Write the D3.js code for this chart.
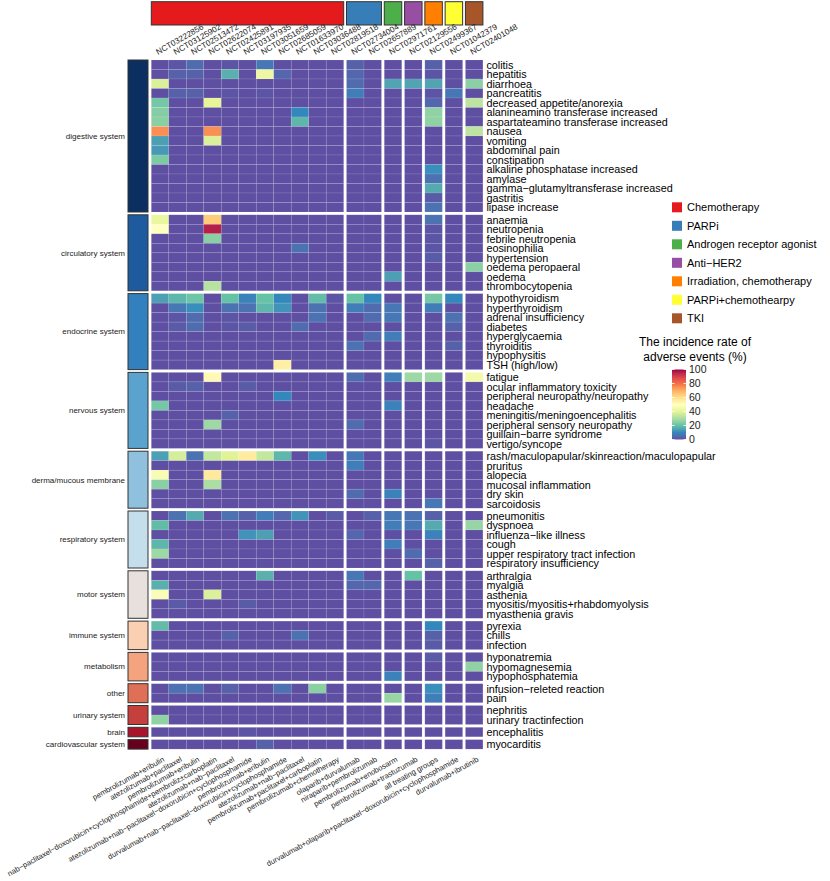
<!DOCTYPE html>
<html>
<head>
<meta charset="utf-8">
<script src="https://cdn.jsdelivr.net/npm/d3@7"></script>
<style>
  body { margin: 0; background: #fff; }
  svg { font-family: "Liberation Sans", Arial, sans-serif; }
</style>
</head>
<body>
<div id="chart"></div>
<script>
// trial ids (top) and regimens (bottom)
const trials = ["NCT03222856","NCT03125902","NCT02513472","NCT02622074","NCT02425891","NCT03197935",
  "NCT03051659","NCT02685059","NCT01633970","NCT03036488","NCT02819518","NCT02734004","NCT02657889",
  "NCT02971761","NCT02129556","NCT02499367","NCT01042379","NCT02401048"];
const regimens = ["pembrolizumab+eribulin","atezolizumab+paclitaxel","pembrolizumab+eribulin",
  "nab\u2212paclitaxel\u2212doxorubicin+cyclophosphamide+pembroliz\u00b1carboplatin",
  "atezolizumab+nab\u2212paclitaxel","atezolizumab+nab\u2212paclitaxel\u2212doxorubicin+cyclophosphamide",
  "pembrolizumab+eribulin","durvalumab+nab\u2212paclitaxel\u2212doxorubicin+cyclophosphamide",
  "atezolizumab+nab\u2212paclitaxel","pembrolizumab+paclitaxel+carboplatin","pembrolizumab+chemotherapy",
  "olaparib+durvalumab","niraparib+pembrolizumab","pembrolizumab+enobosarm","pembrolizumab+trastuzumab",
  "all treating groups","durvalumab+olaparib+paclitaxel\u2212doxorubicin+cyclophosphamide","durvalumab+ibrutinib"];
const therapyTypes = ["Chemotherapy","PARPi","Androgen receptor agonist","Anti\u2212HER2",
  "Irradiation, chemotherapy","PARPi+chemothearpy","TKI"];
const trialsPerType = [11, 2, 1, 1, 1, 1, 1];

const systems = ["digestive system","circulatory system","endocrine system","nervous system",
  "derma/mucous membrane","respiratory system","motor system","immune system","metabolism","other",
  "urinary system","brain","cardiovascular system"];
const eventsPerSystem = [16, 8, 8, 8, 6, 6, 5, 3, 3, 2, 2, 1, 1];

const events = ["colitis","hepatitis","diarrhoea","pancreatitis","decreased appetite/anorexia",
  "alanineamino transferase increased","aspartateamino transferase increased","nausea","vomiting",
  "abdominal pain","constipation","alkaline phosphatase increased","amylase",
  "gamma\u2212glutamyltransferase increased","gastritis","lipase increase",
  "anaemia","neutropenia","febrile neutropenia","eosinophilia","hypertension","oedema peropaeral","oedema","thrombocytopenia",
  "hypothyroidism","hyperthyroidism","adrenal insufficiency","diabetes","hyperglycaemia","thyroiditis","hypophysitis","TSH (high/low)",
  "fatigue","ocular inflammatory toxicity","peripheral neuropathy/neuropathy","headache",
  "meningitis/meningoencephalitis","peripheral sensory neuropathy","guillain\u2212barre syndrome","vertigo/syncope",
  "rash/maculopapular/skinreaction/maculopapular","pruritus","alopecia","mucosal inflammation","dry skin","sarcoidosis",
  "pneumonitis","dyspnoea","influenza\u2212like illness","cough","upper respiratory tract infection","respiratory insufficiency",
  "arthralgia","myalgia","asthenia","myositis/myositis+rhabdomyolysis","myasthenia gravis",
  "pyrexia","chills","infection",
  "hyponatremia","hypomagnesemia","hypophosphatemia",
  "infusion\u2212releted reaction","pain",
  "nephritis","urinary tractinfection",
  "encephalitis",
  "myocarditis"];

// incidence rate (%) per event, one value per trial (same order as trials)
const rates = [
  [0,1,5,0,1,0,7,0,0,0,0, 3,0, 0,0,3,0,0],
  [0,3,3,0,17,0,43,4,0,0,0, 4,0, 0,0,1,0,0],
  [38,0,0,0,0,0,0,0,0,0,0, 5,0, 15,15,15,0,25],
  [0,3,3,0,1,0,1,0,0,0,0, 8,0, 0,0,1,7,0],
  [22,0,0,40,0,0,0,0,0,0,0, 0,0, 0,0,4,0,33],
  [24,0,0,0,0,0,0,0,10,0,0, 0,0, 0,0,26,0,0],
  [25,0,0,0,0,0,0,0,18,0,0, 0,0, 0,0,26,0,0],
  [75,0,0,75,0,0,0,0,0,0,0, 0,0, 0,0,0,0,33],
  [14,0,0,38,0,0,0,0,0,0,0, 0,0, 0,0,0,0,0],
  [13,0,0,0,0,0,0,0,0,0,0, 0,0, 0,0,0,0,0],
  [23,0,0,0,0,0,0,0,0,0,0, 0,0, 0,0,0,0,0],
  [0,0,0,0,0,0,0,0,0,0,0, 0,0, 0,0,11,0,0],
  [0,0,0,0,0,0,0,0,0,0,0, 0,0, 0,0,6,0,0],
  [0,0,0,0,0,0,0,0,0,0,0, 0,0, 0,0,16,0,0],
  [0,0,0,0,0,0,0,0,0,0,0, 0,0, 0,0,2,0,0],
  [0,0,0,0,0,0,0,0,0,0,0, 0,0, 0,0,6,0,0],
  // circulatory
  [42,0,0,64,0,0,0,0,0,0,0, 0,0, 0,0,6,0,0],
  [50,0,0,96,0,0,0,0,0,0,0, 0,0, 0,0,1,0,0],
  [0,0,0,25,0,0,0,0,0,0,0, 0,0, 0,0,1,0,0],
  [0,0,0,0,0,0,0,0,6,0,0, 0,0, 0,0,1,0,0],
  [0,0,0,0,0,0,0,0,0,0,0, 0,0, 0,0,2,0,0],
  [0,0,0,0,0,0,0,0,0,0,0, 0,0, 0,0,0,0,25],
  [0,0,0,0,0,0,0,0,0,0,0, 0,0, 14,0,0,0,0],
  [0,0,0,32,0,0,0,0,0,0,0, 0,0, 0,0,0,0,0],
  // endocrine
  [14,18,21,0,20,9,20,10,0,19,1, 20,10, 0,0,22,10,0],
  [0,7,11,0,6,6,18,12,0,6,0, 8,5, 7,0,8,0,0],
  [0,1,5,0,1,0,0,0,0,6,0, 0,5, 7,0,0,6,0],
  [0,2,5,0,1,2,0,0,5,0,0, 0,0, 0,0,0,3,0],
  [0,0,0,0,0,0,0,0,0,0,0, 0,5, 8,0,0,0,0],
  [0,0,0,0,0,0,0,0,0,0,0, 6,0, 0,0,0,3,0],
  [0,0,0,0,0,0,0,0,0,0,0, 0,0, 0,0,0,0,0],
  [0,0,0,0,0,0,0,55,0,0,0, 0,0, 0,0,0,0,0],
  // nervous
  [0,0,0,52,0,0,0,0,0,0,0, 5,0, 8,28,28,0,45],
  [0,2,3,0,0,2,0,0,0,0,0, 0,0, 0,0,0,0,0],
  [0,0,0,0,0,0,0,10,0,0,0, 0,0, 0,0,0,0,0],
  [22,0,0,0,0,0,0,0,0,0,0, 0,0, 9,0,0,0,0],
  [0,0,0,0,3,0,0,0,0,0,0, 0,0, 0,0,0,0,0],
  [0,0,0,28,0,0,0,0,0,0,0, 5,0, 0,0,0,0,0],
  [0,0,0,0,0,0,0,0,0,0,0, 0,0, 0,0,0,0,0],
  [0,0,0,0,0,0,0,0,0,0,0, 0,0, 0,0,1,0,0],
  // derma/mucous membrane
  [14,37,6,34,39,56,34,18,0,11,0, 7,0, 0,0,0,0,0],
  [0,0,0,0,0,0,0,0,0,0,0, 8,0, 0,0,0,0,0],
  [47,0,0,57,0,0,0,0,0,0,0, 0,0, 0,0,0,0,0],
  [25,0,0,30,0,0,0,0,0,0,0, 0,0, 0,0,0,0,0],
  [0,0,0,0,0,0,0,0,0,0,0, 5,0, 9,0,0,0,0],
  [0,0,0,0,0,0,0,0,0,0,0, 0,0, 0,0,7,0,0],
  // respiratory
  [0,6,16,0,6,3,8,4,12,0,2, 0,3, 7,6,3,0,0],
  [19,0,0,0,0,0,0,0,0,0,0, 0,0, 8,7,16,0,27],
  [0,0,0,0,0,12,14,0,0,0,0, 4,0, 0,0,9,0,0],
  [18,0,0,0,0,0,0,0,0,0,0, 0,0, 8,0,0,0,0],
  [28,0,0,0,0,0,0,0,0,0,0, 0,0, 0,5,0,0,0],
  [0,0,0,0,0,0,0,0,0,0,0, 0,0, 0,0,3,0,0],
  // motor
  [0,0,0,0,0,0,17,0,0,0,0, 7,0, 0,20,0,0,0],
  [17,0,0,0,0,0,0,0,0,0,0, 4,4, 0,0,0,0,0],
  [48,0,0,38,0,0,0,0,0,0,0, 0,0, 0,0,0,0,0],
  [0,2,0,0,0,2,0,0,0,0,0, 0,0, 0,0,0,0,0],
  [0,0,0,0,0,0,0,0,0,0,0, 0,0, 0,0,0,0,0],
  // immune
  [19,0,0,0,0,0,0,0,0,0,0, 0,0, 0,0,10,0,0],
  [0,0,0,0,3,0,0,0,6,0,0, 0,0, 0,0,3,0,0],
  [0,0,0,0,0,0,0,0,0,0,0, 0,0, 0,0,2,0,0],
  // metabolism
  [0,0,0,0,0,0,0,0,0,0,0, 0,0, 0,0,2,0,0],
  [0,0,0,0,0,0,0,0,0,0,0, 0,0, 0,0,0,0,26],
  [0,0,0,0,0,0,0,0,0,0,0, 0,0, 9,0,0,0,0],
  // other
  [0,6,6,0,3,0,0,6,0,25,0, 0,0, 0,0,11,0,0],
  [0,0,0,0,0,0,0,0,0,0,0, 0,0, 27,0,8,0,0],
  // urinary
  [0,0,0,0,0,0,0,0,0,0,0, 0,0, 0,0,0,0,0],
  [26,0,0,0,0,0,0,0,0,0,0, 0,0, 0,0,0,0,0],
  // brain
  [0,0,0,0,0,1,0,0,0,0,0, 0,0, 0,0,0,0,0],
  // cardiovascular
  [0,0,0,0,0,0,3,0,0,0,0, 0,0, 0,0,0,0,0]
];

const legendTicks = [0, 20, 40, 60, 80, 100];

const W = 830, H = 881;
const typeColors = ["#E41A1C","#377EB8","#4DAF4A","#984EA3","#FF7F00","#FFFF33","#A65628"];
const systemColors = ["#0B2F60","#1D5A9E","#3281BE","#5AA3CE","#8FC1DE","#C4DEEC","#E8E0DC",
  "#FBCFB2","#F3A47F","#E06F57","#C5403D","#A9142D","#67001F"];

const colW = 17.49, rowH = 9.5, gap = 2.8;
const x0 = 151.3, y0 = 60;

// group index of each column / row
const colType = trialsPerType.flatMap((n, g) => d3.range(n).map(() => g));
const rowSys = eventsPerSystem.flatMap((n, g) => d3.range(n).map(() => g));

const xBase = d3.scaleLinear().domain([0, trials.length]).range([x0, x0 + trials.length * colW]);
const yBase = d3.scaleLinear().domain([0, events.length]).range([y0, y0 + events.length * rowH]);
const xPos = i => xBase(i) + colType[i] * gap;
const yPos = i => yBase(i) + rowSys[i] * gap;

const colour = d3.scaleLinear()
  .domain(d3.range(0, 101, 10))
  .range(d3.schemeSpectral[11].slice().reverse())
  .interpolate(d3.interpolateLab)
  .clamp(true);

const svg = d3.select("#chart").append("svg")
  .attr("width", W).attr("height", H);

// heatmap cells
const cells = [];
rates.forEach((row, r) => row.forEach((v, c) => cells.push({ r, c, v })));
svg.append("g").selectAll("rect")
  .data(cells)
  .join("rect")
  .attr("x", d => xPos(d.c))
  .attr("y", d => yPos(d.r))
  .attr("width", colW)
  .attr("height", rowH)
  .attr("fill", d => colour(d.v))
  .attr("stroke", "#ffffff")
  .attr("stroke-opacity", 0.18)
  .attr("stroke-width", 0.6);

// row labels
svg.append("g").selectAll("text")
  .data(events)
  .join("text")
  .attr("x", xPos(trials.length - 1) + colW + 3.5)
  .attr("y", (d, i) => yPos(i) + rowH / 2)
  .attr("dy", "0.38em")
  .attr("font-size", 10.8)
  .attr("fill", "#000")
  .text(d => d);

// top annotation (therapy type)
const typeStart = d3.cumsum([0].concat(trialsPerType)).slice(0, -1);
svg.append("g").selectAll("rect")
  .data(therapyTypes)
  .join("rect")
  .attr("x", (d, g) => xPos(typeStart[g]))
  .attr("y", 1.7)
  .attr("width", (d, g) => trialsPerType[g] * colW)
  .attr("height", 23.3)
  .attr("fill", (d, g) => typeColors[g])
  .attr("stroke", "#333")
  .attr("stroke-width", 1);

// trial ids
svg.append("g").selectAll("text")
  .data(trials)
  .join("text")
  .attr("transform", (d, i) => `translate(${xPos(i) + colW / 2 - 2},${55})rotate(-30)`)
  .attr("font-size", 8.2)
  .attr("fill", "#222")
  .text(d => d);

// regimen labels
svg.append("g").selectAll("text")
  .data(regimens)
  .join("text")
  .attr("transform", (d, i) => `translate(${xPos(i) + colW / 2 + 5},${761})rotate(-29)`)
  .attr("text-anchor", "end")
  .attr("font-size", 7.6)
  .attr("fill", "#222")
  .text(d => d);

// left annotation (organ system)
const sysStart = d3.cumsum([0].concat(eventsPerSystem)).slice(0, -1);
const left = svg.append("g");
left.selectAll("rect")
  .data(systems)
  .join("rect")
  .attr("x", 128)
  .attr("y", (d, g) => yPos(sysStart[g]))
  .attr("width", 20)
  .attr("height", (d, g) => eventsPerSystem[g] * rowH)
  .attr("fill", (d, g) => systemColors[g])
  .attr("stroke", "#333")
  .attr("stroke-width", 1);
left.selectAll("text")
  .data(systems)
  .join("text")
  .attr("x", 125)
  .attr("y", (d, g) => yPos(sysStart[g]) + eventsPerSystem[g] * rowH / 2)
  .attr("dy", "0.35em")
  .attr("text-anchor", "end")
  .attr("font-size", 8)
  .attr("fill", "#222")
  .text(d => d);

// therapy legend
const leg = svg.append("g").attr("transform", "translate(672,207.3)");
leg.selectAll("rect")
  .data(therapyTypes)
  .join("rect")
  .attr("x", 0)
  .attr("y", (d, i) => i * 18.5 - 5)
  .attr("width", 10)
  .attr("height", 10)
  .attr("fill", (d, i) => typeColors[i]);
leg.selectAll("text")
  .data(therapyTypes)
  .join("text")
  .attr("x", 15)
  .attr("y", (d, i) => i * 18.5)
  .attr("dy", "0.36em")
  .attr("font-size", 11)
  .attr("fill", "#000")
  .text(d => d);

// colour bar legend
const barY = d3.scaleLinear().domain([0, 100]).range([439.5, 369.5]);
const grad = svg.append("defs").append("linearGradient")
  .attr("id", "rateGrad")
  .attr("x1", 0).attr("y1", 1).attr("x2", 0).attr("y2", 0);
grad.selectAll("stop")
  .data(d3.range(0, 101, 5))
  .join("stop")
  .attr("offset", d => d / 100)
  .attr("stop-color", d => colour(d));

svg.append("text")
  .attr("x", 695).attr("y", 346)
  .attr("text-anchor", "middle")
  .attr("font-size", 12)
  .text("The incidence rate of");
svg.append("text")
  .attr("x", 695).attr("y", 361)
  .attr("text-anchor", "middle")
  .attr("font-size", 12)
  .text("adverse events (%)");

svg.append("rect")
  .attr("x", 672).attr("y", barY(100))
  .attr("width", 14)
  .attr("height", barY(0) - barY(100))
  .attr("fill", "url(#rateGrad)");

const axis = d3.axisRight(barY)
  .tickValues(legendTicks)
  .tickSize(0)
  .tickPadding(3);
const ax = svg.append("g")
  .attr("transform", "translate(686,0)")
  .call(axis);
ax.select(".domain").remove();
ax.selectAll("text").attr("font-size", 10.5).attr("fill", "#222")
  .attr("font-family", "\"Liberation Sans\", Arial, sans-serif");

// little white tick marks on the bar
svg.append("g").selectAll("line")
  .data(legendTicks)
  .join("line")
  .attr("x1", 672).attr("x2", 674.5)
  .attr("y1", d => barY(d)).attr("y2", d => barY(d))
  .attr("stroke", "#fff").attr("stroke-width", 0.8);
svg.append("g").selectAll("line")
  .data(legendTicks)
  .join("line")
  .attr("x1", 683.5).attr("x2", 686)
  .attr("y1", d => barY(d)).attr("y2", d => barY(d))
  .attr("stroke", "#fff").attr("stroke-width", 0.8);
</script>
</body>
</html>
